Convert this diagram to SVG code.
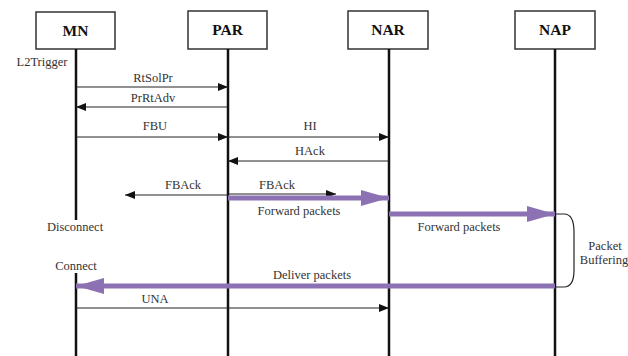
<svg xmlns="http://www.w3.org/2000/svg" width="628" height="356" viewBox="0 0 628 356">
  <defs>
    <marker id="ah" markerWidth="10" markerHeight="8" refX="10" refY="4" orient="auto" markerUnits="userSpaceOnUse">
      <path d="M0,0 L10,4 L0,8 Z" fill="#111"/>
    </marker>
    <marker id="ahp" markerWidth="28" markerHeight="16" refX="28" refY="8" orient="auto" markerUnits="userSpaceOnUse">
      <path d="M0,0 L28,8 L0,16 Z" fill="#8c72b2"/>
    </marker>
  </defs>
  <style>
    .box { fill: #fff; stroke: #333; stroke-width: 1.5; }
    .title { font-family: "Liberation Serif", serif; font-weight: bold; font-size: 15.5px; fill: #111; text-anchor: middle; }
    .life { stroke: #111; stroke-width: 2.5; fill: none; }
    .msg { stroke: #222; stroke-width: 1.2; fill: none; marker-end: url(#ah); }
    .data { stroke: #8c72b2; stroke-width: 5; fill: none; marker-end: url(#ahp); }
    .lbl { font-family: "Liberation Serif", serif; font-size: 12.5px; fill: #333; text-anchor: middle; }
    .note { font-family: "Liberation Serif", serif; font-size: 12.5px; fill: #333; text-anchor: middle; }
  </style>
  <rect width="628" height="356" fill="#fff"/>

  <!-- entities with lifelines -->
  <g id="MN">
    <rect class="box" x="36" y="12" width="79" height="37"/>
    <text class="title" x="75.5" y="36">MN</text>
    <line class="life" x1="76" y1="49" x2="76" y2="220"/>
    <line class="life" x1="76" y1="273" x2="76" y2="356"/>
  </g>
  <g id="PAR">
    <rect class="box" x="188" y="11" width="79" height="38"/>
    <text class="title" x="227.5" y="35">PAR</text>
    <line class="life" x1="228" y1="49" x2="228" y2="356"/>
  </g>
  <g id="NAR">
    <rect class="box" x="348" y="11" width="80" height="38"/>
    <text class="title" x="388" y="35">NAR</text>
    <line class="life" x1="389" y1="49" x2="389" y2="356"/>
  </g>
  <g id="NAP">
    <rect class="box" x="515" y="11" width="80" height="38"/>
    <text class="title" x="555" y="35">NAP</text>
    <line class="life" x1="555" y1="49" x2="555" y2="356"/>
  </g>

  <!-- annotations -->
  <g id="notes">
    <text class="note" x="42" y="66">L2Trigger</text>
    <text class="note" x="75" y="231">Disconnect</text>
    <text class="note" x="76" y="270">Connect</text>
    <text class="note" x="605" y="250">Packet</text>
    <text class="note" x="604" y="264">Buffering</text>
  </g>

  <!-- messages -->
  <g id="connectors">
    <line class="msg" x1="76" y1="87" x2="228" y2="87"/>
    <text class="lbl" x="153" y="82">RtSolPr</text>
    <line class="msg" x1="228" y1="107" x2="76" y2="107"/>
    <text class="lbl" x="153" y="102">PrRtAdv</text>

    <line class="msg" x1="76" y1="137" x2="228" y2="137"/>
    <text class="lbl" x="155" y="130">FBU</text>
    <line class="msg" x1="228" y1="137" x2="389" y2="137"/>
    <text class="lbl" x="310" y="130">HI</text>
    <line class="msg" x1="389" y1="161" x2="228" y2="161"/>
    <text class="lbl" x="310" y="155">HAck</text>

    <line class="msg" x1="228" y1="195" x2="125" y2="195"/>
    <text class="lbl" x="183" y="189">FBAck</text>
    <line class="msg" x1="228" y1="194" x2="336" y2="194"/>
    <text class="lbl" x="277" y="189">FBAck</text>

    <line class="data" x1="228" y1="198" x2="389" y2="198"/>
    <text class="lbl" x="299" y="215">Forward packets</text>
    <line class="data" x1="389" y1="214" x2="555" y2="214"/>
    <text class="lbl" x="459" y="231">Forward packets</text>

    <path d="M555,214 L564,214 Q574,214 574,232 L574,270 Q574,287 564,287 L555,287" fill="none" stroke="#222" stroke-width="1.2"/>

    <line class="data" x1="555" y1="286" x2="76" y2="286"/>
    <text class="lbl" x="312" y="279">Deliver packets</text>

    <line class="msg" x1="76" y1="308" x2="389" y2="308"/>
    <text class="lbl" x="155" y="303">UNA</text>
  </g>
</svg>
